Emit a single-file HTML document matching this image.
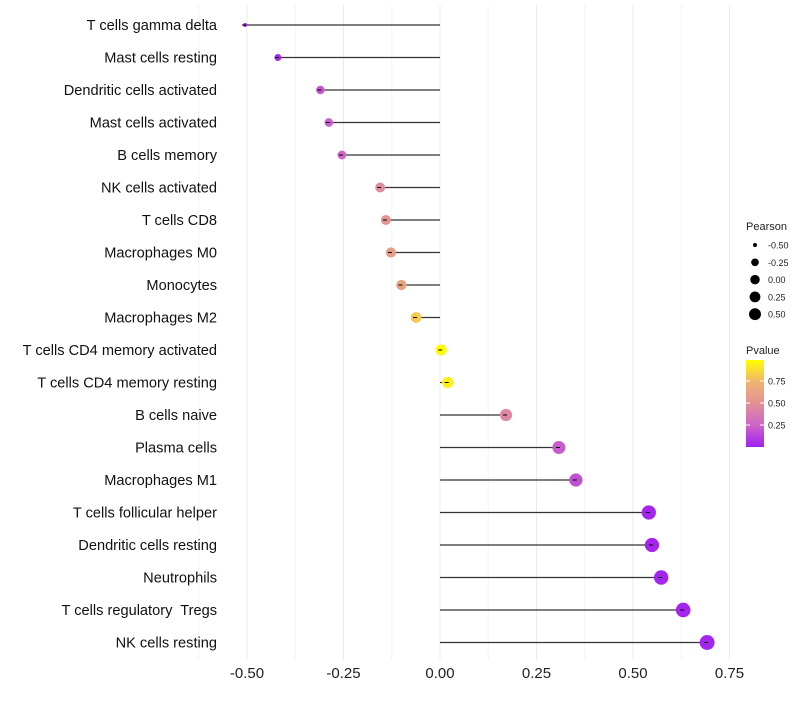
<!DOCTYPE html>
<html><head><meta charset="utf-8"><style>
body{margin:0;background:#fff;font-family:"Liberation Sans",sans-serif}
svg text{font-family:"Liberation Sans",sans-serif;white-space:pre}
</style></head><body>
<svg id="chart" width="800" height="700"></svg>
<script>
const categories=["T cells gamma delta","Mast cells resting","Dendritic cells activated","Mast cells activated","B cells memory","NK cells activated","T cells CD8","Macrophages M0","Monocytes","Macrophages M2","T cells CD4 memory activated","T cells CD4 memory resting","B cells naive","Plasma cells","Macrophages M1","T cells follicular helper","Dendritic cells resting","Neutrophils","T cells regulatory  Tregs","NK cells resting"];
const pearson=[-0.505,-0.42,-0.31,-0.288,-0.254,-0.155,-0.14,-0.127,-0.10,-0.062,0.003,0.02,0.171,0.308,0.352,0.541,0.549,0.573,0.63,0.692];
const pvalue=[0.02,0.03,0.2,0.23,0.28,0.48,0.52,0.58,0.63,0.82,0.99,0.95,0.45,0.22,0.18,0.02,0.02,0.02,0.02,0.02];
const xTicks=[-0.5,-0.25,0,0.25,0.5,0.75];
const xTickLabels=["-0.50","-0.25","0.00","0.25","0.50","0.75"];
const sizeLegend=[-0.5,-0.25,0,0.25,0.5];
const colorTicks=[0.25,0.5,0.75];

const NS="http://www.w3.org/2000/svg";
const svg=document.getElementById('chart');
function el(t,a,p){const e=document.createElementNS(NS,t);for(const k in a)e.setAttribute(k,a[k]);(p||svg).appendChild(e);return e;}
const X=v=>440+v*386;
const Y=i=>25+i*32.5;
const R=v=>2+Math.sqrt(Math.max(0,v+0.505))*5.0;
const stops=[[0,[160,32,240]],[0.25,[205,100,200]],[0.5,[225,145,150]],[0.75,[240,180,110]],[1,[255,255,0]]];
function col(p){for(let i=1;i<stops.length;i++){if(p<=stops[i][0]){const a=stops[i-1],b=stops[i];const t=(p-a[0])/(b[0]-a[0]);const c=a[1].map((v,k)=>Math.round(v+(b[1][k]-v)*t));return `rgb(${c})`;}}return 'rgb(255,255,0)';}

const grid=el('g',{});


for(let k=-5;k<=6;k++){const v=k*0.125;el('line',{x1:X(v),x2:X(v),y1:5,y2:660,stroke:k%2===0?'#ebebeb':'#f4f4f4','stroke-width':1},grid);}
xTicks.forEach((v,i)=>{const t=el('text',{x:X(v),y:678,'text-anchor':'middle','font-size':15,fill:'#222'});t.textContent=xTickLabels[i];

});
categories.forEach((c,i)=>{
 const t=el('text',{x:217,y:Y(i)+5,'text-anchor':'end','font-size':14.6,fill:'#111'});t.textContent=c;
 
 
 const l=el('line',{x1:X(0),x2:X(pearson[i]),y1:Y(i),y2:Y(i),stroke:'#333','stroke-width':1.2});
 
 
 const d=el('circle',{cx:X(pearson[i]),cy:Y(i),r:R(pearson[i]),fill:col(pvalue[i])});
 
 
 el('line',{x1:X(pearson[i])-3,x2:X(pearson[i])+1,y1:Y(i),y2:Y(i),stroke:'#000','stroke-width':1});
});
const lg=el('g',{});


let tt=el('text',{x:746,y:230,'font-size':11,fill:'#222'},lg);tt.textContent='Pearson';
sizeLegend.forEach((v,i)=>{const y=245+i*17.3;el('circle',{cx:755,cy:y,r:R(v)*0.85,fill:'#000'},lg);const t=el('text',{x:768,y:y+3.5,'font-size':9,fill:'#222'},lg);t.textContent=v.toFixed(2);});
const cg=el('g',{});


tt=el('text',{x:746,y:354,'font-size':11,fill:'#222'},cg);tt.textContent='Pvalue';
const defs=el('defs',{});const gr=el('linearGradient',{id:'pg',x1:0,y1:1,x2:0,y2:0},defs);
stops.forEach(s=>el('stop',{offset:s[0],'stop-color':`rgb(${s[1]})`},gr));
el('rect',{x:746,y:360,width:18,height:87,fill:'url(#pg)'},cg);
colorTicks.forEach(v=>{const y=447-v*88;el('line',{x1:746,x2:750,y1:y,y2:y,stroke:'#fff'},cg);el('line',{x1:760,x2:764,y1:y,y2:y,stroke:'#fff'},cg);const t=el('text',{x:768,y:y+3.5,'font-size':9,fill:'#222'},cg);t.textContent=v.toFixed(2);});
</script>
</body></html>
